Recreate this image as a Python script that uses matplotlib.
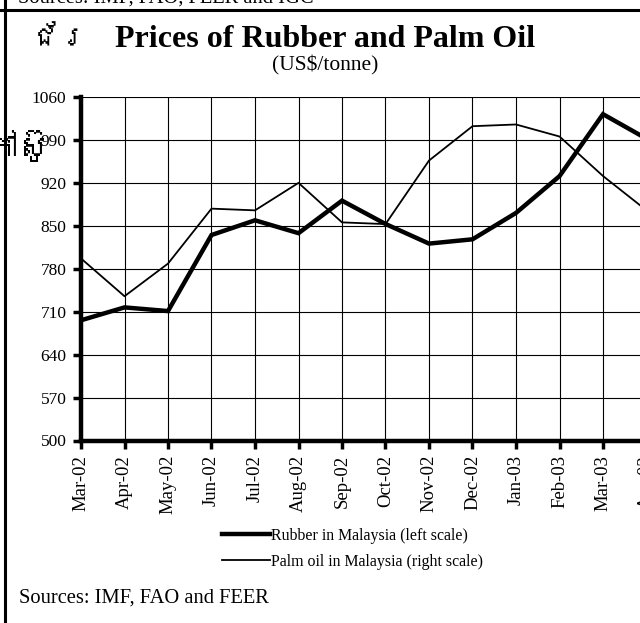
import matplotlib
matplotlib.use('Agg')
import matplotlib.pyplot as plt
from matplotlib import font_manager
from matplotlib.ft2font import FT2Font
from matplotlib.lines import Line2D

## the data
months = ['Mar-02', 'Apr-02', 'May-02', 'Jun-02', 'Jul-02', 'Aug-02', 'Sep-02',
          'Oct-02', 'Nov-02', 'Dec-02', 'Jan-03', 'Feb-03', 'Mar-03', 'Apr-03']
rubber = [696, 717, 711, 835, 859, 838, 891, 853, 821, 828, 871, 931, 1032, 992]   # left scale
palm = [356, 334, 353, 385, 384, 400, 377, 376, 413, 433, 434, 427, 404, 384]       # right scale
left_ticks = [500, 570, 640, 710, 780, 850, 920, 990, 1060]
right_lim = (250, 450)

serif = 'Liberation Serif'


def khmer_family():
    # look for any installed font that has Khmer glyphs
    for f in font_manager.fontManager.ttflist:
        try:
            if 0x1780 in FT2Font(f.fname).get_charmap():
                return [f.name, 'DejaVu Sans']
        except Exception:
            pass
    return ['DejaVu Sans']


khmer = khmer_family()

W, H = 640, 623
fig = plt.figure(figsize=(W / 100, H / 100), dpi=100)

# axes run past the right edge, like the cropped page
x0, x_last, y_top, y_bot = 81, 646.5, 97, 440.5
ax = fig.add_axes([x0 / W, 1 - y_bot / H, (x_last - x0) / W, (y_bot - y_top) / H])
ax2 = ax.twinx()

x = list(range(len(months)))
ax.plot(x, rubber, color='black', lw=3.2, solid_joinstyle='miter', zorder=3)
ax2.plot(x, palm, color='black', lw=1.3, zorder=3)

ax.set_xlim(0, len(months) - 1)
ax.set_ylim(left_ticks[0], left_ticks[-1])
ax2.set_ylim(*right_lim)
ax.set_yticks(left_ticks)
ax.set_yticklabels([str(v) for v in left_ticks], fontfamily=serif, fontsize=12.5)
ax.set_xticks(x)
ax.set_xticklabels(months, rotation=90, fontfamily=serif, fontsize=13.5)
ax.grid(True, color='black', lw=0.8)
ax.set_axisbelow(True)

for s in ['top', 'right']:
    ax.spines[s].set_visible(False)
    ax2.spines[s].set_visible(False)
ax2.spines['left'].set_visible(False)
ax2.spines['bottom'].set_visible(False)
ax2.set_yticks([])
ax.spines['left'].set_linewidth(3.2)
ax.spines['bottom'].set_linewidth(3.2)
ax.tick_params(axis='both', length=5.5, width=2.5, pad=5)

# titles
fig.text(325 / W, 1 - 47 / H, 'Prices of Rubber and Palm Oil', ha='center', va='baseline',
         fontfamily=serif, fontweight='bold', fontsize=23)
fig.text(325 / W, 1 - 65 / H, '(US$/tonne)', ha='center', va='center',
         fontfamily=serif, fontsize=15.5)

# legend
handles = [Line2D([], [], color='black', lw=3.2), Line2D([], [], color='black', lw=1.3)]
fig.legend(handles, ['Rubber in Malaysia (left scale)', 'Palm oil in Malaysia (right scale)'],
           loc='upper left', bbox_to_anchor=(222 / W, 1 - 528 / H),
           frameon=False, borderpad=0, borderaxespad=0, handlelength=3.0, handletextpad=0.1,
           labelspacing=0.6, prop={'family': serif, 'size': 11.4})

fig.text(19 / W, 1 - 603 / H, 'Sources: IMF, FAO and FEER', ha='left', va='baseline',
         fontfamily=serif, fontsize=14.8)

# bits of the page around the chart
fig.text(18 / W, 1 - 3 / H, 'Sources: IMF, FAO, FEER and IGC', ha='left', va='baseline',
         fontfamily=serif, fontsize=14.8)
fig.add_artist(Line2D([0, 1], [1 - 10 / H, 1 - 10 / H], color='black', lw=2.2))
fig.add_artist(Line2D([4.5 / W, 4.5 / W], [0, 1], color='black', lw=2.2))
fig.text(31 / W, 1 - 47 / H, 'ជ័រ', ha='left', va='baseline', fontfamily=khmer,
         fontweight='bold', fontsize=21)
fig.text(-14 / W, 1 - 158 / H, 'កៅស៊ូ', ha='left', va='baseline', fontfamily=khmer,
         fontweight='bold', fontsize=23)

fig.savefig('out.png', dpi=100)
